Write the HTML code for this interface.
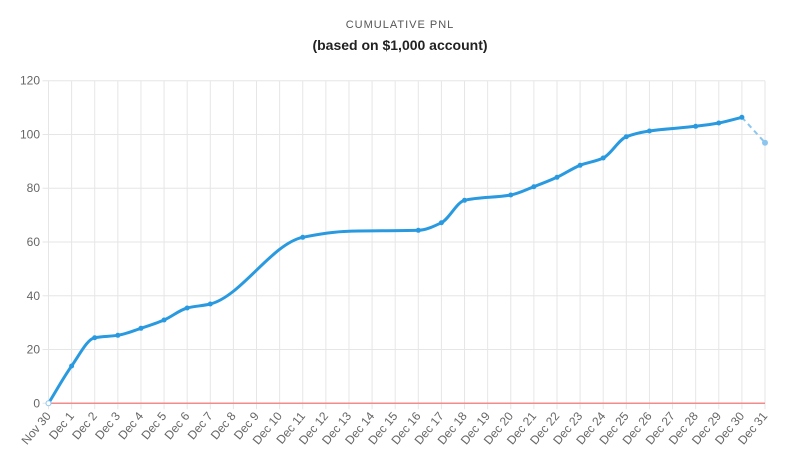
<!DOCTYPE html>
<html><head><meta charset="utf-8"><style>
html,body{margin:0;padding:0;background:#fff;}
svg{display:block;font-family:"Liberation Sans",sans-serif;}
</style></head><body>
<svg id="c" width="800" height="470" viewBox="0 0 800 470">
<text x="400" y="28" text-anchor="middle" font-size="11" fill="#555" letter-spacing="1">CUMULATIVE PNL</text>
<text x="400" y="50" text-anchor="middle" font-size="14" font-weight="bold" fill="#222">(based on $1,000 account)</text>
<g id="grid"></g>
<g id="lbl" font-size="12" fill="#666"></g>
<line x1="48.5" y1="403.3" x2="765" y2="403.3" stroke="#f28b8b" stroke-width="1.5"/>
<path id="ln" fill="none" stroke="#2a9ae0" stroke-width="3"/>
<path id="dl" fill="none" stroke="#8cc6ef" stroke-width="2" stroke-dasharray="5,4"/>
<g id="pts"></g>
</svg>
<script>
var ns="http://www.w3.org/2000/svg";
function el(t,a,p,txt){var e=document.createElementNS(ns,t);for(var k in a)e.setAttribute(k,a[k]);if(txt)e.textContent=txt;document.getElementById(p).appendChild(e);return e;}
var x0=48.5,dx=(765-48.5)/31,y0=403.3,y120=80.7;
for(var v=0;v<=120;v+=20){var y=y0-(y0-y120)*v/120;
 el("line",{x1:x0-6,x2:765,y1:y,y2:y,stroke:"#e6e6e6","stroke-width":1},"grid");
 el("text",{x:40,y:y+4,"text-anchor":"end"},"lbl",""+v);}
var labels=["Nov 30"];for(var i=1;i<=31;i++)labels.push("Dec "+i);
for(var i=0;i<=31;i++){var x=x0+dx*i;
 el("line",{x1:x,x2:x,y1:y120,y2:y0+6,stroke:"#e6e6e6","stroke-width":1},"grid");
 el("text",{x:0,y:0,"text-anchor":"end",transform:"translate("+(x+3)+","+(y0+13)+") rotate(-50)"},"lbl",labels[i]);}
var d=[[0,403.3],[1,366],[2,337.7],[3,335.3],[4,328.3],[5,320],[6,308],[7,304],[11,237.3],[13,231.2,1],[16,230.3],[17,222.7],[18,200.3],[20,195],[21,186.7],[22,177.3],[23,165.3],[24,158],[25,136.7],[26,131],[28,126.3],[29,123],[30,117.3]];
var P=d.map(function(p){return [x0+dx*p[0],p[1],p[2]];});
var n=P.length,dl=[],m=[];
for(var i=0;i<n-1;i++)dl.push((P[i+1][1]-P[i][1])/(P[i+1][0]-P[i][0]));
m[0]=dl[0];m[n-1]=dl[n-2];
for(var i=1;i<n-1;i++){if(dl[i-1]*dl[i]<=0)m[i]=0;else{var h0=P[i][0]-P[i-1][0],h1=P[i+1][0]-P[i][0];m[i]=3*(h0+h1)/((2*h1+h0)/dl[i-1]+(h1+2*h0)/dl[i]);}}
var s="M"+P[0][0]+","+P[0][1];
for(var i=0;i<n-1;i++){var h=(P[i+1][0]-P[i][0])/3;
 s+=" C"+(P[i][0]+h)+","+(P[i][1]+m[i]*h)+" "+(P[i+1][0]-h)+","+(P[i+1][1]-m[i+1]*h)+" "+P[i+1][0]+","+P[i+1][1];}
document.getElementById("ln").setAttribute("d",s);
var e=[x0+dx*31,142.7];
document.getElementById("dl").setAttribute("d","M"+P[n-1][0]+","+P[n-1][1]+" L"+e);
P.forEach(function(p){if(!p[2])el("circle",{cx:p[0],cy:p[1],r:2.5,fill:"#2a9ae0"},"pts");});
el("circle",{cx:e[0],cy:e[1],r:3,fill:"#8cc6ef"},"pts");
el("circle",{cx:P[0][0],cy:P[0][1],r:2.5,fill:"#fff",stroke:"#8cc6ef"},"pts");
</script>
</body></html>
